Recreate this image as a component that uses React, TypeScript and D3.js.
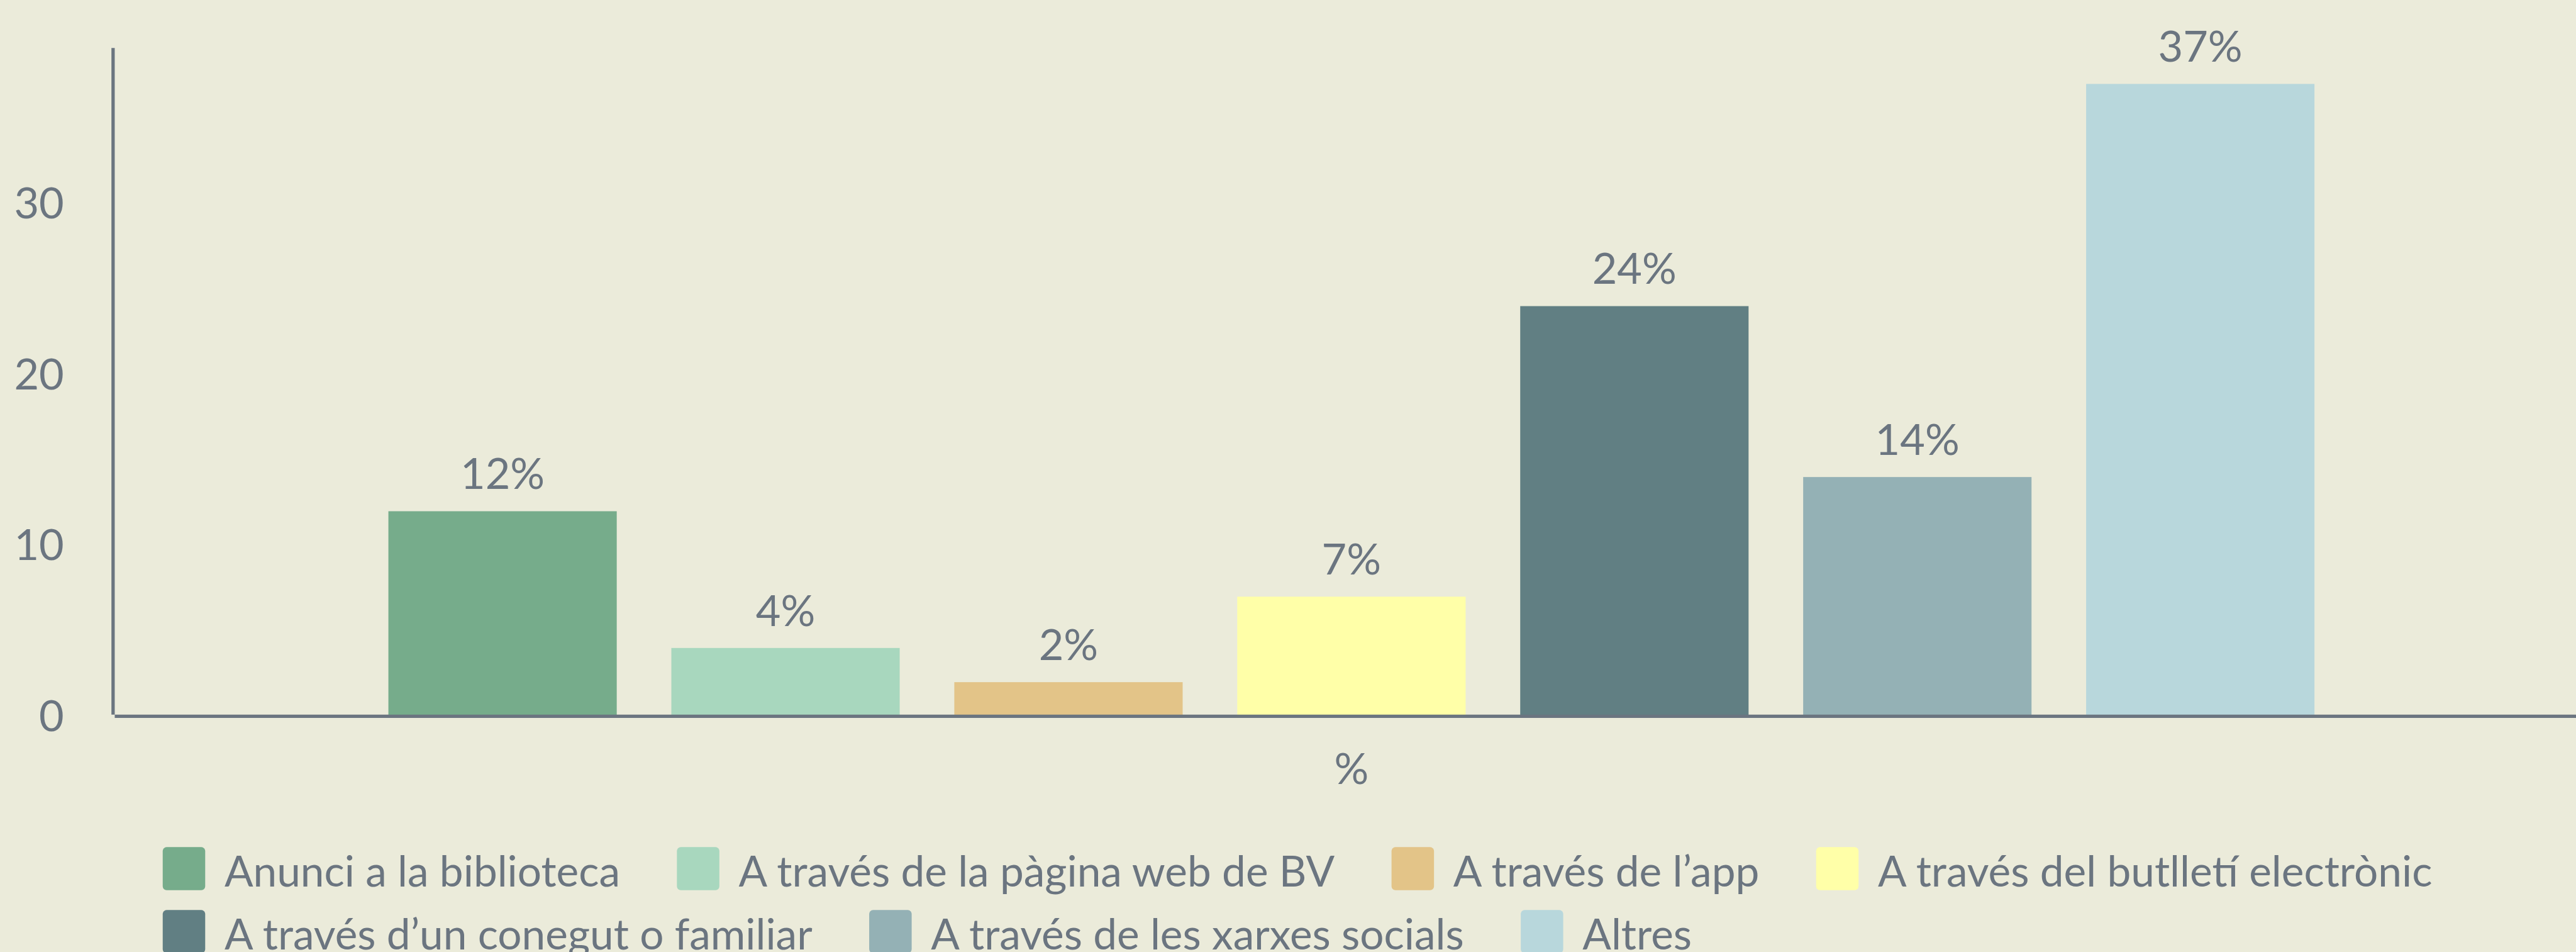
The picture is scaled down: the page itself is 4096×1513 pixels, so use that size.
import React, { useEffect, useRef } from 'react';
import * as d3 from 'd3';

const categories = [
  'Anunci a la biblioteca',
  'A través de la pàgina web de BV',
  'A través de l’app',
  'A través del butlletí electrònic',
  'A través d’un conegut o familiar',
  'A través de les xarxes socials',
  'Altres',
];
const values = [12, 4, 2, 7, 24, 14, 37];
const colors = ['#76ac8b', '#a8d7be', '#e3c488', '#ffffa8', '#617f83', '#94b1b5', '#b8d7dc'];
const yTicks = [0, 10, 20, 30];
const xCategory = '%';
const yMax = 39.1;

const W = 4670;
const H = 1725;
const BG = '#ebebda';
const AXIS = '#6b7580';
const TEXT = '#6b7580';
const FONT = 'Lato, "Noto Sans", sans-serif';

export default function App() {
  const ref = useRef<SVGSVGElement | null>(null);

  useEffect(() => {
    const svg = d3.select(ref.current);
    svg.selectAll('*').remove();

    const left = 205;
    const right = 4695;
    const zeroY = 1298;
    const topY = 87;

    svg.append('rect').attr('width', W).attr('height', H).attr('fill', BG);

    const y = d3.scaleLinear().domain([0, yMax]).range([zeroY, topY]);
    const x = d3
      .scaleBand<string>()
      .domain(categories)
      .range([left, right])
      .paddingInner(0.193)
      .paddingOuter(0.973);

    const data = categories.map((c, i) => ({ c, v: values[i], col: colors[i] }));

    // bars
    svg
      .append('g')
      .selectAll('rect')
      .data(data)
      .join('rect')
      .attr('x', (d) => x(d.c)!)
      .attr('width', x.bandwidth())
      .attr('y', (d) => y(d.v))
      .attr('height', (d) => y(0) - y(d.v))
      .attr('fill', (d) => d.col);

    // bar labels
    svg
      .append('g')
      .selectAll('text')
      .data(data)
      .join('text')
      .attr('x', (d) => x(d.c)! + x.bandwidth() / 2)
      .attr('y', (d) => y(d.v) - 40)
      .attr('text-anchor', 'middle')
      .attr('font-family', FONT)
      .attr('font-size', 78)
      .attr('fill', TEXT)
      .text((d) => `${d.v}%`);

    // y axis line
    svg
      .append('line')
      .attr('x1', left)
      .attr('x2', left)
      .attr('y1', topY)
      .attr('y2', zeroY - 3)
      .attr('stroke', AXIS)
      .attr('stroke-width', 6);

    // x axis line
    svg
      .append('line')
      .attr('x1', left + 3)
      .attr('x2', W)
      .attr('y1', zeroY)
      .attr('y2', zeroY)
      .attr('stroke', AXIS)
      .attr('stroke-width', 6);

    // y tick labels
    svg
      .append('g')
      .selectAll('text')
      .data(yTicks)
      .join('text')
      .attr('x', 116)
      .attr('y', (d) => y(d) + 27)
      .attr('text-anchor', 'end')
      .attr('font-family', FONT)
      .attr('font-size', 78)
      .attr('fill', TEXT)
      .text((d) => String(d));

    // x category label
    svg
      .append('text')
      .attr('x', (left + right) / 2)
      .attr('y', 1421)
      .attr('text-anchor', 'middle')
      .attr('font-family', FONT)
      .attr('font-size', 78)
      .attr('fill', TEXT)
      .text(xCategory);

    // legend
    const lg = svg.append('g');
    const sw = 77;
    const startX = 295;
    const rowTop = [1535, 1649];
    const maxRight = 4500;
    let cx = startX;
    let row = 0;
    data.forEach((d) => {
      const t = lg
        .append('text')
        .attr('font-family', FONT)
        .attr('font-size', 77)
        .attr('fill', TEXT)
        .text(d.c);
      const tw = (t.node() as SVGTextElement).getComputedTextLength();
      const itemW = sw + 35 + tw;
      if (cx + itemW > maxRight && cx > startX) {
        row += 1;
        cx = startX;
      }
      const top = rowTop[0] + row * (rowTop[1] - rowTop[0]);
      lg.append('rect')
        .attr('x', cx)
        .attr('y', top)
        .attr('width', sw)
        .attr('height', 78)
        .attr('rx', 7)
        .attr('fill', d.col);
      t.attr('x', cx + sw + 35).attr('y', top + 72);
      cx += itemW + 103;
    });
  }, []);

  return (
    <svg
      ref={ref}
      width={4096}
      height={1513}
      viewBox={`0 0 ${W} ${H}`}
      style={{ position: 'absolute', left: 0, top: 0, display: 'block' }}
    />
  );
}
